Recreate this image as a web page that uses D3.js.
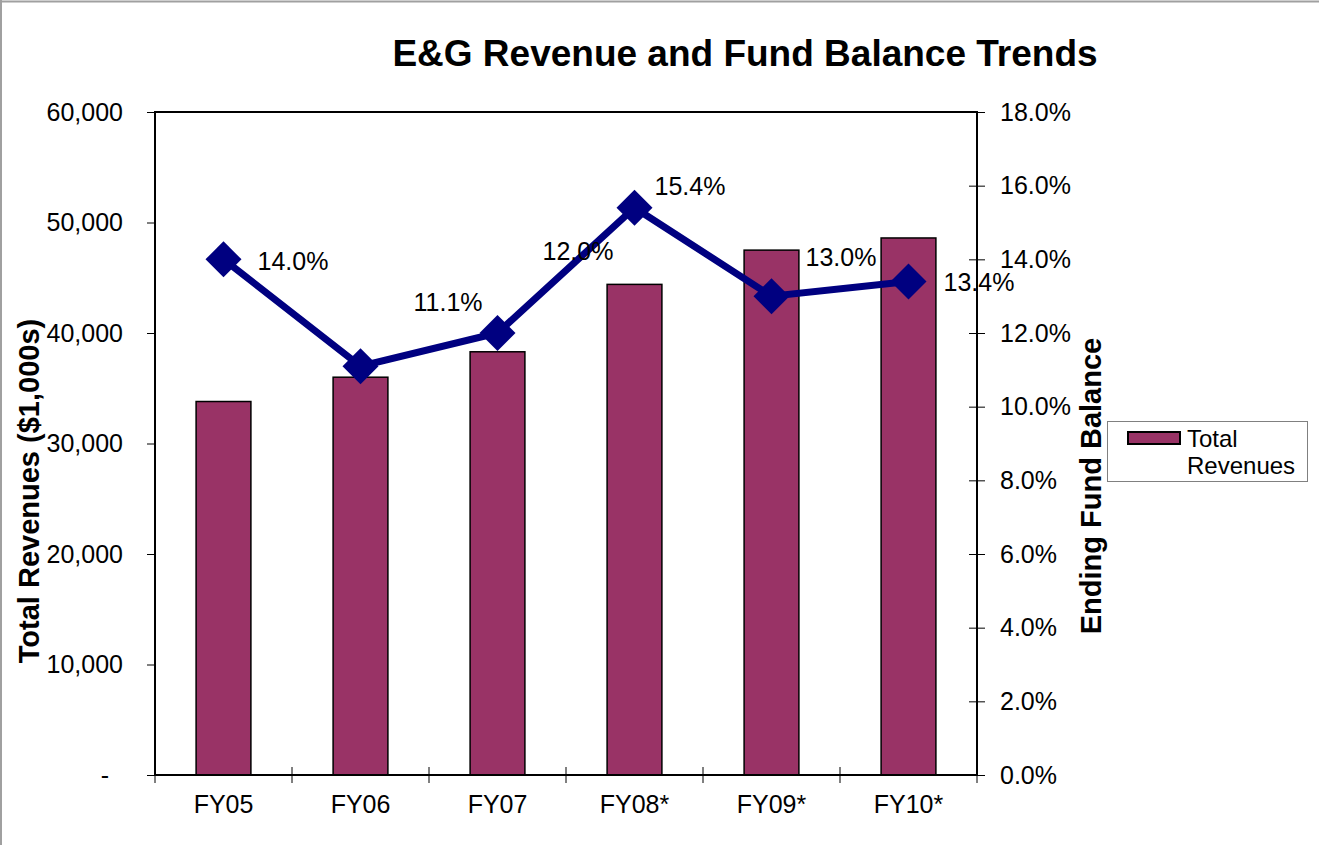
<!DOCTYPE html>
<html>
<head>
<meta charset="utf-8">
<script src="https://cdn.jsdelivr.net/npm/d3@7"></script>
<style>
  html, body { margin: 0; padding: 0; background: #fff; }
  svg text { font-family: "Liberation Sans", Arial, sans-serif; }
</style>
</head>
<body>
<svg id="chart" width="1319" height="845"></svg>
<script>
// ---- data ----
const categories = ["FY05", "FY06", "FY07", "FY08*", "FY09*", "FY10*"];
const revenues = [33800, 36000, 38300, 44400, 47500, 48600];
const fundBalance = [14.0, 11.1, 12.0, 15.4, 13.0, 13.4];
const fundLabels = ["14.0%", "11.1%", "12.0%", "15.4%", "13.0%", "13.4%"];
const leftTicks = [0, 10000, 20000, 30000, 40000, 50000, 60000];
const rightTicks = [0, 2, 4, 6, 8, 10, 12, 14, 16, 18];

// ---- layout (not data) ----
const labelOffsets = [[34, 11], [53, -55], [45, -73], [20, -13], [34, -30], [35, 10]];
const L = 155, R = 977, T = 112, B = 775;

const svg = d3.select("#chart");

// outer frame (top and left edges)
svg.append("line").attr("x1", 0).attr("x2", 1319).attr("y1", 1.5).attr("y2", 1.5)
  .attr("stroke", "#a0a0a0").attr("stroke-width", 2);
svg.append("line").attr("x1", 1).attr("x2", 1).attr("y1", 0).attr("y2", 845)
  .attr("stroke", "#a0a0a0").attr("stroke-width", 2);

const x = d3.scaleBand().domain(categories).range([L, R]).paddingInner(0.6).paddingOuter(0.3);
const yL = d3.scaleLinear().domain([0, 60000]).range([B, T]);
const yR = d3.scaleLinear().domain([0, 18]).range([B, T]);

// title
svg.append("text").attr("x", 745).attr("y", 66).attr("text-anchor", "middle")
  .attr("font-size", 37).attr("font-weight", "bold").attr("fill", "#000")
  .text("E&G Revenue and Fund Balance Trends");

// bars
svg.append("g").selectAll("rect").data(revenues).join("rect")
  .attr("x", (d, i) => x(categories[i]))
  .attr("y", d => yL(d))
  .attr("width", x.bandwidth())
  .attr("height", d => yL(0) - yL(d))
  .attr("fill", "#993366").attr("stroke", "#000").attr("stroke-width", 1.5);

// plot border
svg.append("rect").attr("x", L).attr("y", T).attr("width", R - L).attr("height", B - T)
  .attr("fill", "none").attr("stroke", "#000").attr("stroke-width", 2);

// left axis
const fmtL = d => d === 0 ? "-\u00a0\u00a0" : d3.format(",")(d);
const gL = svg.append("g").attr("transform", `translate(${L},0)`)
  .call(d3.axisLeft(yL).tickValues(leftTicks).tickFormat(fmtL).tickSize(8).tickPadding(24));
gL.select(".domain").remove();
gL.selectAll("text").attr("font-size", 25).attr("fill", "#000")
  .attr("font-family", '"Liberation Sans", Arial, sans-serif');
gL.selectAll(".tick line").attr("stroke", "#000");

// right axis
const gR = svg.append("g").attr("transform", `translate(${R},0)`)
  .call(d3.axisRight(yR).tickValues(rightTicks).tickFormat(d => d3.format(".1f")(d) + "%").tickSize(8).tickPadding(15));
gR.select(".domain").remove();
gR.selectAll("text").attr("font-size", 25).attr("fill", "#000")
  .attr("font-family", '"Liberation Sans", Arial, sans-serif');
gR.selectAll(".tick line").attr("stroke", "#000").attr("x1", -8);

// bottom axis labels
const gB = svg.append("g").attr("transform", `translate(0,${B})`)
  .call(d3.axisBottom(x).tickSize(0).tickPadding(20));
gB.select(".domain").remove();
gB.selectAll("text").attr("font-size", 25).attr("fill", "#000")
  .attr("font-family", '"Liberation Sans", Arial, sans-serif');

// bottom axis boundary ticks
const bounds = d3.range(categories.length + 1).map(i => L + i * x.step());
svg.append("g").selectAll("line").data(bounds).join("line")
  .attr("x1", d => d).attr("x2", d => d).attr("y1", B - 8).attr("y2", B + 8)
  .attr("stroke", "#000").attr("stroke-width", 1);

// line series
const cx = i => x(categories[i]) + x.bandwidth() / 2;
const line = d3.line().x((d, i) => cx(i)).y(d => yR(d));
svg.append("path").datum(fundBalance).attr("d", line)
  .attr("fill", "none").attr("stroke", "#000080").attr("stroke-width", 7)
  .attr("stroke-linejoin", "miter");

const dsz = 18;
svg.append("g").selectAll("path").data(fundBalance).join("path")
  .attr("d", (d, i) => {
    const px = cx(i), py = yR(d);
    return `M${px},${py - dsz}L${px + dsz},${py}L${px},${py + dsz}L${px - dsz},${py}Z`;
  })
  .attr("fill", "#000080");

// data labels
svg.append("g").selectAll("text").data(fundBalance).join("text")
  .attr("x", (d, i) => cx(i) + labelOffsets[i][0])
  .attr("y", (d, i) => yR(d) + labelOffsets[i][1])
  .attr("font-size", 25).attr("fill", "#000")
  .text((d, i) => fundLabels[i]);

// axis titles
svg.append("text").attr("transform", "translate(39,491) rotate(-90)")
  .attr("text-anchor", "middle").attr("font-size", 29).attr("font-weight", "bold")
  .text("Total Revenues ($1,000s)");
svg.append("text").attr("transform", "translate(1101,486) rotate(-90)")
  .attr("text-anchor", "middle").attr("font-size", 29).attr("font-weight", "bold")
  .text("Ending Fund Balance");

// legend
const lg = svg.append("g");
lg.append("rect").attr("x", 1107.5).attr("y", 421.5).attr("width", 200).attr("height", 60)
  .attr("fill", "#fff").attr("stroke", "#808080").attr("stroke-width", 1);
lg.append("rect").attr("x", 1128).attr("y", 432).attr("width", 52).attr("height", 12)
  .attr("fill", "#993366").attr("stroke", "#000").attr("stroke-width", 2);
lg.append("text").attr("x", 1187).attr("y", 447).attr("font-size", 24).text("Total");
lg.append("text").attr("x", 1187).attr("y", 474).attr("font-size", 24).text("Revenues");
</script>
</body>
</html>
